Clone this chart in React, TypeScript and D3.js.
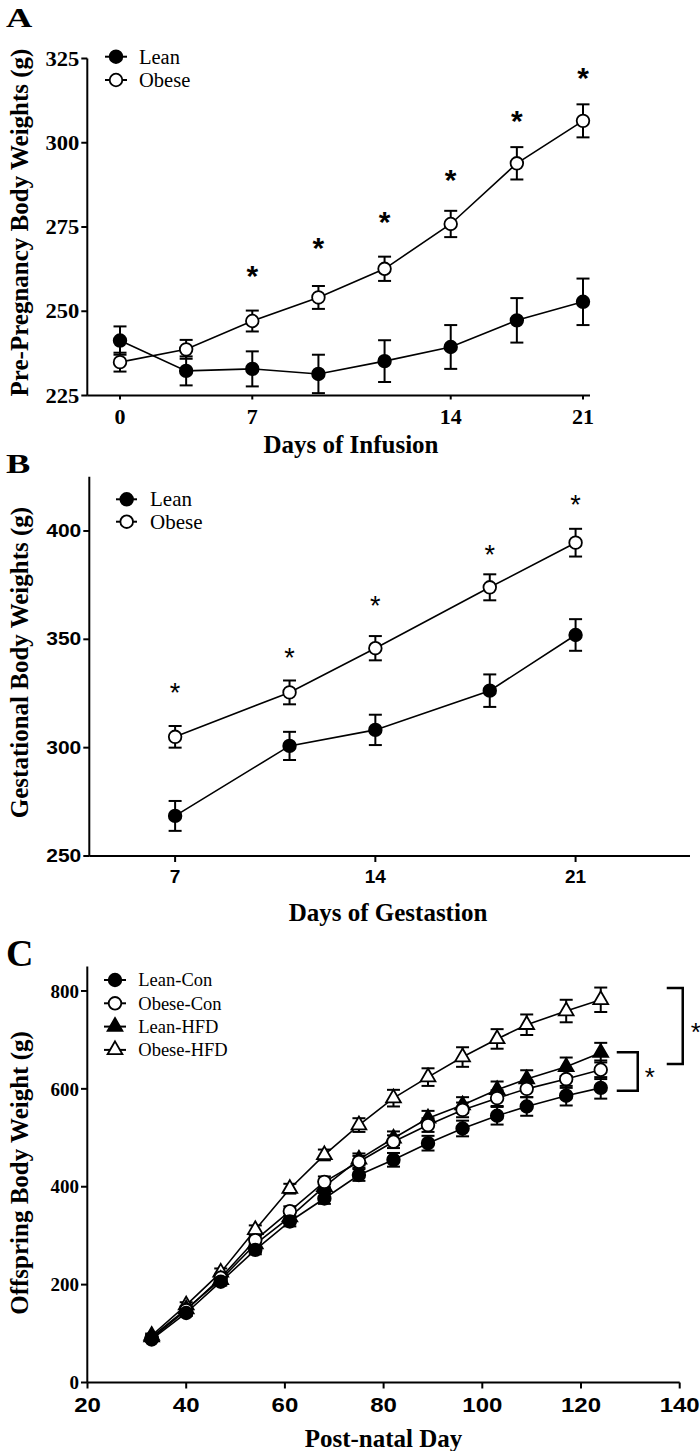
import React from "react";
import * as d3 from "d3";

// ---------- Panel A data ----------
const infusionDays = ["0", "3", "7", "10", "12", "14", "17", "21"];
const infusionTicks = ["0", "7", "14", "21"];
const leanA = [241.3, 232.3, 232.9, 231.4, 235.2, 239.4, 247.3, 252.8];
const leanASE = [4.2, 4.3, 5.2, 5.7, 6.2, 6.5, 6.6, 6.9];
const obeseA = [234.9, 238.7, 247.1, 254.1, 262.6, 275.9, 293.9, 306.5];
const obeseASE = [2.8, 2.8, 3.1, 3.4, 3.6, 3.9, 4.8, 4.9];
const starA = [null, null, 262.7, 270.9, 278.6, 291.1, 308.7, 321.4];
const yTicksA = [225, 250, 275, 300, 325];

// ---------- Panel B data ----------
const gestDays = [7, 11, 14, 18, 21];
const xTicksB = [7, 14, 21];
const leanB = [268.5, 300.8, 308.2, 326.3, 352.0];
const leanBSE = [6.9, 6.5, 7.0, 7.5, 7.3];
const obeseB = [305.0, 325.5, 345.9, 374.0, 394.6];
const obeseBSE = [5.0, 5.5, 5.6, 6.0, 6.4];
const starB = [328.1, 344.3, 368.5, 392.0, 415.1];
const yTicksB = [250, 300, 350, 400];

// ---------- Panel C data ----------
const pnDays = [33, 40, 47, 54, 61, 68, 75, 82, 89, 96, 103, 109, 117, 124];
const xTicksC = [20, 40, 60, 80, 100, 120, 140];
const yTicksC = [0, 200, 400, 600, 800];
const leanCon = [88, 142, 206, 271, 329, 376, 424, 455, 489, 519, 545, 564, 586, 602];
const leanConSE = [4, 6, 8, 9, 10, 11, 12, 14, 15, 16, 18, 19, 20, 22];
const obeseCon = [90, 148, 214, 291, 350, 410, 451, 492, 526, 557, 581, 600, 620, 639];
const obeseConSE = [4, 6, 8, 9, 10, 11, 12, 13, 14, 15, 16, 17, 18, 19];
const leanHFD = [93, 150, 210, 283, 338, 400, 456, 499, 540, 567, 598, 620, 645, 674];
const leanHFDSE = [4, 6, 8, 9, 10, 11, 12, 14, 15, 16, 17, 18, 19, 20];
const obeseHFD = [96, 158, 225, 312, 396, 465, 526, 581, 624, 665, 702, 731, 759, 782];
const obeseHFDSE = [4, 6, 8, 9, 10, 11, 14, 17, 18, 20, 20, 21, 23, 25];
const bracketSmall = [596, 675];
const bracketLarge = [651, 806];
const seriesNamesC = ["Lean-Con", "Obese-Con", "Lean-HFD", "Obese-HFD"];

const SERIF = "'Liberation Serif', 'Times New Roman', serif";
const SANS = "'Liberation Sans', Arial, sans-serif";

type Shape = "circle" | "triangle";

function Marker({ x, y, shape, filled }: { x: number; y: number; shape: Shape; filled: boolean }) {
  if (shape === "circle") {
    return <circle cx={x} cy={y} r={6.3} fill={filled ? "#000" : "#fff"} stroke="#000" strokeWidth={1.8} />;
  }
  const p = d3.symbol(d3.symbolTriangle, 95)() as string;
  return <path d={p} transform={`translate(${x},${y})`} fill={filled ? "#000" : "#fff"} stroke="#000" strokeWidth={1.8} />;
}

function Series({
  xs, vals, se, y, shape, filled, cap = 6.5,
}: { xs: number[]; vals: number[]; se: number[]; y: d3.ScaleLinear<number, number>; shape: Shape; filled: boolean; cap?: number }) {
  const line = d3.line<number>().x((_, i) => xs[i]).y((v) => y(v));
  return (
    <g>
      <path d={line(vals) as string} fill="none" stroke="#000" strokeWidth={1.6} />
      {vals.map((v, i) => (
        <g key={i} stroke="#000" strokeWidth={2}>
          <line x1={xs[i]} x2={xs[i]} y1={y(v - se[i])} y2={y(v + se[i])} />
          <line x1={xs[i] - cap} x2={xs[i] + cap} y1={y(v + se[i])} y2={y(v + se[i])} />
          <line x1={xs[i] - cap} x2={xs[i] + cap} y1={y(v - se[i])} y2={y(v - se[i])} />
        </g>
      ))}
      {vals.map((v, i) => (
        <Marker key={"m" + i} x={xs[i]} y={y(v)} shape={shape} filled={filled} />
      ))}
    </g>
  );
}

function LegendItem({ x0, x1, xm, xt, y, label, shape, filled, fs }: any) {
  return (
    <g>
      <line x1={x0} x2={x1} y1={y} y2={y} stroke="#000" strokeWidth={2} />
      <Marker x={xm} y={y} shape={shape} filled={filled} />
      <text x={xt} y={y} dy="0.34em" fontFamily={SERIF} fontSize={fs}>{label}</text>
    </g>
  );
}

function Star({ x, y, fs, weight = "bold" }: { x: number; y: number; fs: number; weight?: string }) {
  return (
    <text x={x} y={y + 0.57 * fs} textAnchor="middle" fontFamily={SANS} fontWeight={weight} fontSize={fs}>*</text>
  );
}

// text stretched horizontally around its anchor point
function WideText({ x, y, sx, children, ...rest }: any) {
  return (
    <g transform={`translate(${x},${y}) scale(${sx},1)`}>
      <text x={0} y={0} {...rest}>{children}</text>
    </g>
  );
}

export default function App() {
  // Panel A scales
  const xA = d3.scalePoint<string>().domain(infusionDays).range([120, 583]);
  const yA = d3.scaleLinear().domain([225, 325]).range([395.5, 58.5]);
  const axA = 87.3;
  const xsA = infusionDays.map((d) => xA(d) as number);

  // Panel B scales
  const xB = d3.scaleLinear().domain([4, 25]).range([89.3, 690]);
  const yB = d3.scaleLinear().domain([250, 425]).range([856, 476.8]);
  const xsB = gestDays.map((d) => xB(d));

  // Panel C scales
  const xC = d3.scaleLinear().domain([20, 140]).range([87.5, 679.7]);
  const yC = d3.scaleLinear().domain([0, 850]).range([1382.5, 966.5]);
  const xsC = pnDays.map((d) => xC(d));
  const lastX = xsC[xsC.length - 1];

  return (
    <svg width={700} height={1451} style={{ position: "absolute", left: 0, top: 0, background: "#fff" }}>
      <rect width={700} height={1451} fill="#fff" />
      {/* ============ Panel A ============ */}
      <WideText x={6} y={27} sx={1.3} fontFamily={SERIF} fontWeight="bold" fontSize={28}>A</WideText>
      <line x1={axA} x2={axA} y1={yA(225)} y2={yA(325)} stroke="#000" strokeWidth={2} />
      <line x1={axA} x2={590} y1={yA(225)} y2={yA(225)} stroke="#000" strokeWidth={2} />
      {yTicksA.map((t) => (
        <g key={t}>
          <line x1={axA - 6} x2={axA} y1={yA(t)} y2={yA(t)} stroke="#000" strokeWidth={2} />
          <WideText x={axA - 8} y={yA(t)} sx={1.1} dy="0.35em" textAnchor="end" fontFamily={SERIF} fontWeight="bold" fontSize={20.5}>{t}</WideText>
        </g>
      ))}
      {infusionTicks.map((t) => (
        <g key={t}>
          <line x1={xA(t)} x2={xA(t)} y1={yA(225)} y2={yA(225) + 4} stroke="#000" strokeWidth={2} />
          <text x={xA(t)} y={416.5} dy="0.35em" textAnchor="middle" fontFamily={SERIF} fontWeight="bold" fontSize={22}>{t}</text>
        </g>
      ))}
      <text x={351} y={444} dy="0.35em" textAnchor="middle" fontFamily={SERIF} fontWeight="bold" fontSize={25}>Days of Infusion</text>
      <text transform="translate(28,222.5) rotate(-90)" textAnchor="middle" fontFamily={SERIF} fontWeight="bold" fontSize={25}>Pre-Pregnancy Body Weights (g)</text>
      <Series xs={xsA} vals={leanA} se={leanASE} y={yA} shape="circle" filled={true} />
      <Series xs={xsA} vals={obeseA} se={obeseASE} y={yA} shape="circle" filled={false} />
      {starA.map((s, i) => (s == null ? null : <Star key={i} x={xsA[i]} y={yA(s)} fs={30} />))}
      <LegendItem x0={105} x1={127} xm={116} xt={139} y={56.7} label="Lean" shape="circle" filled={true} fs={20.5} />
      <LegendItem x0={105} x1={127} xm={116} xt={139} y={80} label="Obese" shape="circle" filled={false} fs={20.5} />

      {/* ============ Panel B ============ */}
      <WideText x={6} y={473} sx={1.3} fontFamily={SERIF} fontWeight="bold" fontSize={28}>B</WideText>
      <line x1={xB(4)} x2={xB(4)} y1={yB(250)} y2={yB(425)} stroke="#000" strokeWidth={2} />
      <line x1={xB(4)} x2={xB(25)} y1={yB(250)} y2={yB(250)} stroke="#000" strokeWidth={2} />
      {yTicksB.map((t) => (
        <g key={t}>
          <line x1={xB(4) - 6} x2={xB(4)} y1={yB(t)} y2={yB(t)} stroke="#000" strokeWidth={2} />
          <WideText x={xB(4) - 8} y={yB(t)} sx={1.2} dy="0.35em" textAnchor="end" fontFamily={SANS} fontWeight="bold" fontSize={17.5}>{t}</WideText>
        </g>
      ))}
      {xTicksB.map((t) => (
        <g key={t}>
          <line x1={xB(t)} x2={xB(t)} y1={yB(250)} y2={yB(250) + 6} stroke="#000" strokeWidth={2} />
          <text x={xB(t)} y={876.7} dy="0.35em" textAnchor="middle" fontFamily={SANS} fontWeight="bold" fontSize={19}>{t}</text>
        </g>
      ))}
      <text x={388} y={912.7} dy="0.35em" textAnchor="middle" fontFamily={SERIF} fontWeight="bold" fontSize={25}>Days of Gestastion</text>
      <text transform="translate(28,662.5) rotate(-90)" textAnchor="middle" fontFamily={SERIF} fontWeight="bold" fontSize={25}>Gestational Body Weights (g)</text>
      <Series xs={xsB} vals={leanB} se={leanBSE} y={yB} shape="circle" filled={true} />
      <Series xs={xsB} vals={obeseB} se={obeseBSE} y={yB} shape="circle" filled={false} />
      {starB.map((s, i) => <Star key={i} x={xsB[i]} y={yB(s)} fs={27} weight="normal" />)}
      <LegendItem x0={116} x1={137} xm={126.7} xt={150} y={499.3} label="Lean" shape="circle" filled={true} fs={21} />
      <LegendItem x0={116} x1={137} xm={126.7} xt={150} y={521.7} label="Obese" shape="circle" filled={false} fs={21} />

      {/* ============ Panel C ============ */}
      <text x={6} y={966} fontFamily={SERIF} fontWeight="bold" fontSize={38}>C</text>
      <line x1={87.3} x2={87.3} y1={yC(0)} y2={yC(850)} stroke="#000" strokeWidth={2} />
      <line x1={87.3} x2={xC(140)} y1={yC(0)} y2={yC(0)} stroke="#000" strokeWidth={2} />
      {yTicksC.map((t) => (
        <g key={t}>
          <line x1={81} x2={87.3} y1={yC(t)} y2={yC(t)} stroke="#000" strokeWidth={2} />
          <text x={79} y={yC(t)} dy="0.35em" textAnchor="end" fontFamily={SERIF} fontWeight="bold" fontSize={19}>{t}</text>
        </g>
      ))}
      {xTicksC.map((t) => (
        <g key={t}>
          <line x1={xC(t)} x2={xC(t)} y1={yC(0)} y2={yC(0) + 6} stroke="#000" strokeWidth={2} />
          <WideText x={xC(t)} y={1405} sx={1.2} dy="0.35em" textAnchor="middle" fontFamily={SANS} fontWeight="bold" fontSize={20}>{t}</WideText>
        </g>
      ))}
      <text x={383.5} y={1438} dy="0.35em" textAnchor="middle" fontFamily={SERIF} fontWeight="bold" fontSize={25}>Post-natal Day</text>
      <text transform="translate(28,1173) rotate(-90)" textAnchor="middle" fontFamily={SERIF} fontWeight="bold" fontSize={25}>Offspring Body Weight (g)</text>
      <Series xs={xsC} vals={obeseHFD} se={obeseHFDSE} y={yC} shape="triangle" filled={false} />
      <Series xs={xsC} vals={leanHFD} se={leanHFDSE} y={yC} shape="triangle" filled={true} />
      <Series xs={xsC} vals={obeseCon} se={obeseConSE} y={yC} shape="circle" filled={false} />
      <Series xs={xsC} vals={leanCon} se={leanConSE} y={yC} shape="circle" filled={true} />
      {/* brackets */}
      <path d={`M${lastX + 16},${yC(bracketSmall[1])}H${lastX + 37}V${yC(bracketSmall[0])}H${lastX + 16}`} fill="none" stroke="#000" strokeWidth={2.5} />
      <Star x={lastX + 49} y={(yC(bracketSmall[0]) + yC(bracketSmall[1])) / 2} fs={26} weight="normal" />
      <path d={`M${lastX + 66},${yC(bracketLarge[1])}H${lastX + 82}V${yC(bracketLarge[0])}H${lastX + 66}`} fill="none" stroke="#000" strokeWidth={2.5} />
      <Star x={lastX + 95} y={(yC(bracketLarge[0]) + yC(bracketLarge[1])) / 2} fs={26} weight="normal" />
      {seriesNamesC.map((name, i) => (
        <LegendItem key={name} x0={104} x1={126} xm={115} xt={138.3} y={980 + i * 23.3} label={name}
          shape={i < 2 ? "circle" : "triangle"} filled={i % 2 === 0} fs={18.5} />
      ))}
    </svg>
  );
}
